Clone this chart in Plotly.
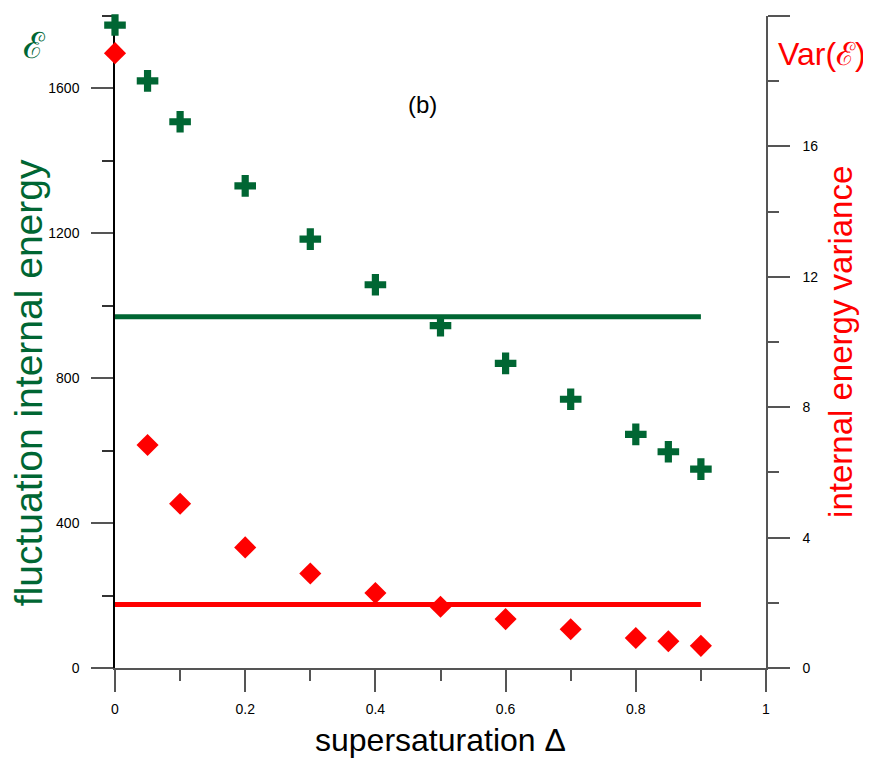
import plotly.graph_objects as go

# Data
delta = [0, 0.05, 0.1, 0.2, 0.3, 0.4, 0.5, 0.6, 0.7, 0.8, 0.85, 0.9]
energy = [1775, 1621, 1508, 1331, 1184, 1058, 945, 841, 742, 645, 597, 549]
variance = [18.86, 6.84, 5.04, 3.70, 2.90, 2.30, 1.88, 1.50, 1.19, 0.92, 0.82, 0.68]
energy_mean_x = [0, 0.9]
energy_mean = [970, 970]
variance_mean_x = [0, 0.9]
variance_mean = [1.95, 1.95]

GREEN = "#006633"
RED = "#FF0000"
FONT = "Arial, Liberation Sans, sans-serif"
SCRIPT = "DejaVu Serif, serif"

fig = go.Figure()

fig.add_trace(go.Scatter(x=energy_mean_x, y=energy_mean, mode="lines",
                         line=dict(color=GREEN, width=5), showlegend=False,
                         cliponaxis=False))
fig.add_trace(go.Scatter(x=delta, y=energy, mode="markers",
                         marker=dict(symbol="cross", size=18, color=GREEN,
                                     line=dict(width=0)),
                         showlegend=False, cliponaxis=False))
fig.add_trace(go.Scatter(x=variance_mean_x, y=variance_mean, mode="lines",
                         line=dict(color=RED, width=5), showlegend=False,
                         yaxis="y2", cliponaxis=False))
fig.add_trace(go.Scatter(x=delta, y=variance, mode="markers",
                         marker=dict(symbol="diamond", size=17, color=RED,
                                     line=dict(width=0)),
                         showlegend=False, yaxis="y2", cliponaxis=False))

tickfont = dict(family=FONT, size=14, color="black")

fig.update_layout(
    width=863, height=751,
    margin=dict(l=107, r=105, t=8, b=91),
    plot_bgcolor="white", paper_bgcolor="white",
    font=dict(family=FONT),
    xaxis=dict(range=[0, 1], tickvals=[0, 0.2, 0.4, 0.6, 0.8, 1],
               ticktext=["0", "0.2", "0.4", "0.6", "0.8", "1"],
               ticks="outside", ticklen=22, tickwidth=1.5, tickcolor="#555",
               minor=dict(ticks="outside", ticklen=11, dtick=0.1, tickwidth=1.5,
                          tickcolor="#555", showgrid=False),
               showline=True, linecolor="#555", linewidth=1.5,
               showgrid=False, zeroline=False, tickfont=tickfont,
               ticklabelstandoff=5, layer="below traces"),
    yaxis=dict(range=[0, 1800], tickvals=[0, 400, 800, 1200, 1600],
               ticks="outside", ticklen=22, tickwidth=1.5, tickcolor="#555",
               minor=dict(ticks="outside", ticklen=11, dtick=200, tickwidth=1.5,
                          tickcolor="#333", showgrid=False),
               showline=True, linecolor="black", linewidth=1.5,
               showgrid=False, zeroline=False, tickfont=tickfont,
               ticklabelstandoff=9, layer="below traces"),
    yaxis2=dict(range=[0, 20], tickvals=[0, 4, 8, 12, 16, 20],
                overlaying="y", side="right", anchor="x",
                ticks="outside", ticklen=22, tickwidth=1.5, tickcolor="#555",
                minor=dict(ticks="outside", ticklen=11, dtick=2, tickwidth=1.5,
                           tickcolor="#555", showgrid=False),
                showline=True, linecolor="#555", linewidth=1.5,
                showgrid=False, zeroline=False, tickfont=tickfont,
                ticklabelstandoff=10, layer="below traces"),
)

annotations = [
    dict(text="supersaturation \u0394", x=0.5, y=-0.1104, xref="paper", yref="paper",
         xanchor="center", yanchor="middle", showarrow=False,
         font=dict(family=FONT, size=32, color="black")),
    dict(text="fluctuation internal energy", x=-0.1335, y=0.437, xref="paper", yref="paper",
         xanchor="center", yanchor="middle", showarrow=False, textangle=-90,
         borderpad=0,
         font=dict(family=FONT, size=39, color=GREEN)),
    dict(text="internal energy variance", x=1.1135, y=0.5, xref="paper", yref="paper",
         xanchor="center", yanchor="middle", showarrow=False, textangle=-90,
         font=dict(family=FONT, size=33, color=RED)),
    dict(text="\u2130", x=-0.123, y=0.955, xref="paper", yref="paper",
         xanchor="center", yanchor="middle", showarrow=False,
         font=dict(family=SCRIPT, size=36, color=GREEN)),
    dict(text="Var(<span style='font-family:DejaVu Serif'>\u2130</span>)",
         x=1.0155, y=0.9417, xref="paper", yref="paper",
         xanchor="left", yanchor="middle", showarrow=False,
         font=dict(family=FONT, size=32, color=RED)),
    dict(text="(b)", x=0.472, y=0.865, xref="paper", yref="paper",
         xanchor="center", yanchor="middle", showarrow=False,
         font=dict(family=FONT, size=24, color="black")),
]
fig.update_layout(annotations=annotations)

fig.write_html("out.html")
